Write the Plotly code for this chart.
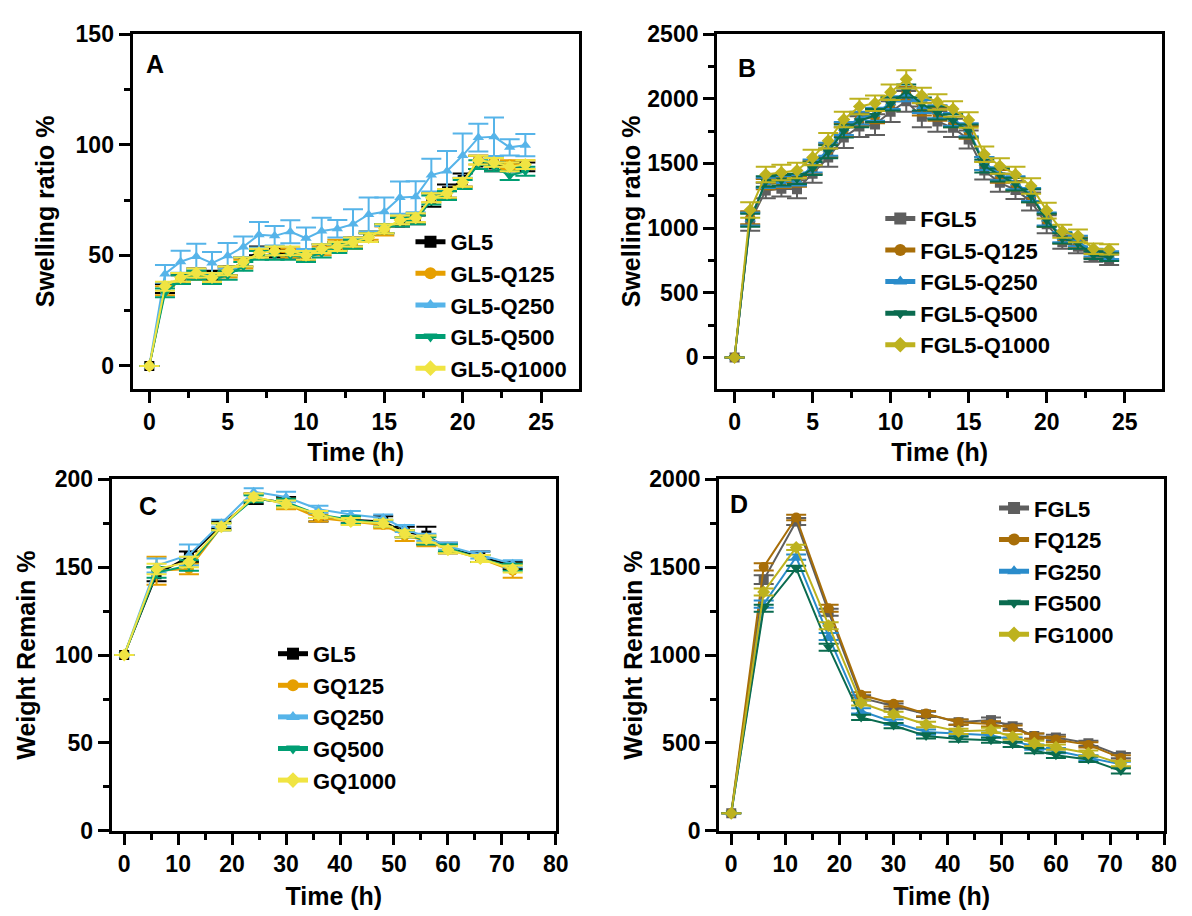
import plotly.graph_objects as go

W, H = 1192, 916

# ---------------- Panel A data ----------------
tA = list(range(25))
A_names = ["GL5", "GL5-Q125", "GL5-Q250", "GL5-Q500", "GL5-Q1000"]
A_GL5 = [0, 35, 39, 42, 41, 43, 47, 52, 51, 51, 50, 53, 54, 56, 58, 62, 65, 66, 75, 79, 84, 92, 91, 90, 90]
A_Q125 = [0, 34, 40, 41, 40, 42, 46, 51, 52, 51, 49, 52, 55, 55, 59, 61, 66, 67, 76, 77, 83, 93, 92, 91, 91]
A_Q250 = [0, 41.6, 47.1, 49.5, 46.5, 49.8, 53.8, 59.3, 58.8, 60.7, 57.7, 61.0, 62.0, 64.1, 68.5, 69.7, 76.1, 76.5, 86.3, 88.1, 95.1, 103.2, 103.6, 98.8, 99.8]
A_Q500 = [0, 33, 39, 41, 39, 41, 45, 50, 50, 50, 49, 51, 53, 55, 58, 62, 65, 66, 75, 77, 82, 91, 90, 86, 88]
A_Q1000 = [0, 36, 40, 42, 40, 43, 47, 51, 52, 52, 50, 53, 54, 56, 58, 62, 66, 67, 76, 78, 83, 93, 92, 90, 91]
A_err_GL5 = [0, 2, 2, 2, 2, 2, 2, 2, 2, 2, 2, 2, 2, 2, 2, 2, 2, 2, 3, 3, 3, 3, 3, 2, 2]
A_err_Q125 = [0, 2, 2, 2, 2, 2, 2, 2, 2, 2, 2, 2, 2, 2, 2, 2, 2, 2, 2, 2, 2, 2, 2, 2, 2]
A_err_Q250 = [0, 4, 5, 5.7, 5, 5.8, 4.7, 5.8, 4.4, 5.2, 4.9, 6, 4, 6.7, 7.6, 6.4, 7.3, 7, 7.4, 9, 10, 6.3, 8.7, 3.7, 5]
A_err_Q500 = [0, 2, 2, 2, 2, 2, 2, 2, 2, 2, 2, 2, 2, 2, 2, 2, 2, 2, 2, 2, 2, 2, 2, 2, 2]
A_err_Q1000 = [0, 2, 2, 2, 2, 2, 2, 2, 2, 2, 2, 2, 2, 2, 2, 2, 2, 2, 2, 2, 2, 2, 2, 2, 2]

# ---------------- Panel B data ----------------
tB = list(range(25))
B_names = ["FGL5", "FGL5-Q125", "FGL5-Q250", "FGL5-Q500", "FGL5-Q1000"]
B_FGL5 = [0, 1050, 1290, 1305, 1300, 1420, 1545, 1700, 1785, 1800, 1900, 1980, 1860, 1825, 1775, 1685, 1445, 1350, 1295, 1205, 1030, 890, 855, 780, 755]
B_Q125 = [0, 1080, 1340, 1350, 1360, 1470, 1600, 1760, 1840, 1860, 1960, 2040, 1920, 1880, 1830, 1740, 1500, 1400, 1340, 1250, 1060, 920, 890, 800, 780]
B_Q250 = [0, 1070, 1350, 1360, 1370, 1480, 1610, 1770, 1850, 1880, 1970, 2030, 1940, 1900, 1840, 1760, 1500, 1420, 1350, 1260, 1070, 930, 900, 810, 790]
B_Q500 = [0, 1060, 1360, 1370, 1380, 1460, 1590, 1750, 1830, 1870, 1960, 2060, 1960, 1890, 1830, 1750, 1480, 1410, 1340, 1250, 1060, 920, 880, 790, 775]
B_Q1000 = [0, 1140, 1415, 1430, 1445, 1545, 1675, 1840, 1940, 1965, 2050, 2150, 2025, 1975, 1920, 1835, 1570, 1480, 1415, 1325, 1135, 975, 940, 840, 835]
B_err_FGL5 = [0, 70, 60, 60, 70, 70, 70, 80, 80, 80, 80, 80, 80, 80, 70, 70, 70, 70, 70, 70, 70, 50, 50, 40, 40]
B_err_Q125 = [0, 50, 40, 40, 40, 50, 50, 50, 50, 50, 50, 50, 50, 50, 50, 50, 50, 50, 50, 50, 50, 40, 40, 30, 30]
B_err_Q250 = [0, 50, 40, 40, 40, 50, 50, 50, 50, 50, 50, 50, 50, 50, 50, 50, 50, 50, 50, 50, 50, 40, 40, 30, 30]
B_err_Q500 = [0, 50, 40, 40, 40, 50, 50, 50, 50, 50, 50, 50, 50, 50, 50, 50, 50, 50, 50, 50, 50, 40, 40, 30, 30]
B_err_Q1000 = [0, 60, 60, 60, 60, 60, 60, 60, 60, 60, 60, 70, 60, 60, 60, 60, 60, 60, 60, 60, 60, 50, 50, 40, 40]

# ---------------- Panel C data ----------------
tC = [0, 6, 12, 18, 24, 30, 36, 42, 48, 52, 56, 60, 66, 72]
C_names = ["GL5", "GQ125", "GQ250", "GQ500", "GQ1000"]
C_GL5 = [100, 146, 156, 174, 189, 187, 179, 177, 176, 170, 168, 161, 156, 151]
C_Q125 = [100, 148, 149, 173, 190, 186, 178, 176, 174, 168, 165, 160, 155, 148]
C_Q250 = [100, 151, 157, 175, 193, 190, 183, 180, 178, 172, 167, 162, 157, 152]
C_Q500 = [100, 147, 151, 173, 189, 187, 180, 177, 175, 169, 165, 161, 155, 150]
C_Q1000 = [100, 149, 153, 173, 190, 186, 180, 176, 175, 169, 166, 160, 155, 149]
C_err_GL5 = [0, 4, 3, 2, 3, 3, 3, 2, 3, 3, 5, 3, 3, 2]
C_err_Q125 = [0, 8, 3, 2, 2, 3, 2, 2, 2, 3, 3, 2, 2, 4]
C_err_Q250 = [0, 4, 6, 2, 2, 3, 2, 2, 2, 2, 2, 2, 2, 2]
C_err_Q500 = [0, 3, 3, 2, 2, 2, 2, 2, 2, 2, 2, 2, 2, 2]
C_err_Q1000 = [0, 3, 3, 2, 2, 2, 2, 2, 2, 2, 2, 2, 2, 2]

# ---------------- Panel D data ----------------
tD = [0, 6, 12, 18, 24, 30, 36, 42, 48, 52, 56, 60, 66, 72]
D_names = ["FGL5", "FQ125", "FG250", "FG500", "FG1000"]
D_FGL5 = [100, 1429, 1760, 1244, 756, 710, 663, 618, 630, 595, 539, 531, 498, 428]
D_Q125 = [100, 1502, 1783, 1266, 774, 723, 667, 618, 608, 584, 539, 520, 489, 415]
D_Q250 = [100, 1290, 1558, 1106, 682, 618, 562, 553, 544, 516, 476, 456, 415, 378]
D_Q500 = [100, 1266, 1493, 1045, 645, 599, 540, 522, 516, 492, 457, 430, 406, 341]
D_Q1000 = [100, 1359, 1613, 1167, 728, 663, 605, 566, 572, 535, 498, 476, 442, 382]
D_err_FGL5 = [0, 25, 20, 20, 15, 15, 15, 15, 15, 15, 15, 15, 15, 15]
D_err_Q125 = [0, 20, 15, 20, 15, 15, 15, 15, 15, 15, 15, 15, 15, 15]
D_err_Q250 = [0, 20, 15, 20, 15, 15, 15, 15, 15, 15, 15, 15, 15, 15]
D_err_Q500 = [0, 20, 15, 20, 15, 15, 15, 15, 15, 15, 15, 15, 15, 15]
D_err_Q1000 = [0, 20, 15, 20, 15, 15, 15, 15, 15, 15, 15, 15, 15, 15]

# ---------------- styles ----------------
colors_light = ["#000000", "#E69F00", "#56B4E9", "#009E73", "#F0E442"]
colors_dark = ["#5E5E5E", "#A86E08", "#2A8CCB", "#0A6B4F", "#BDB21E"]
symbols = ["square", "circle", "triangle-up", "triangle-down", "diamond"]
FONT = "Liberation Sans, Arial, sans-serif"

fig = go.Figure()

panels = [
    ("x", "y", "legend", tA, [A_GL5, A_Q125, A_Q250, A_Q500, A_Q1000],
     [A_err_GL5, A_err_Q125, A_err_Q250, A_err_Q500, A_err_Q1000], A_names, colors_light),
    ("x2", "y2", "legend2", tB, [B_FGL5, B_Q125, B_Q250, B_Q500, B_Q1000],
     [B_err_FGL5, B_err_Q125, B_err_Q250, B_err_Q500, B_err_Q1000], B_names, colors_dark),
    ("x3", "y3", "legend3", tC, [C_GL5, C_Q125, C_Q250, C_Q500, C_Q1000],
     [C_err_GL5, C_err_Q125, C_err_Q250, C_err_Q500, C_err_Q1000], C_names, colors_light),
    ("x4", "y4", "legend4", tD, [D_FGL5, D_Q125, D_Q250, D_Q500, D_Q1000],
     [D_err_FGL5, D_err_Q125, D_err_Q250, D_err_Q500, D_err_Q1000], D_names, colors_dark),
]

for xa, ya, lg, t, series, errs, names, cols in panels:
    for vals, err, name, col, sym in zip(series, errs, names, cols, symbols):
        fig.add_trace(go.Scatter(
            x=t, y=vals, name=name, mode="lines+markers",
            xaxis=xa, yaxis=ya, legend=lg,
            line=dict(color=col, width=2),
            marker=dict(symbol=sym, size=10, color=col),
            error_y=dict(type="data", array=err, visible=True, color=col,
                         thickness=2, width=10),
        ))

# pixel geometry -> paper domains
def xd(l, r):
    return [l / W, r / W]

def yd(top, bottom):
    return [1 - bottom / H, 1 - top / H]

tickfont = dict(family=FONT, size=23, color="black", weight="bold")
titlefont = dict(family=FONT, size=25, color="black", weight="bold")

def axis(domain, rng, dtick, minor_dtick, anchor, title, standoff):
    return dict(
        domain=domain, range=rng, anchor=anchor,
        dtick=dtick, tick0=0, ticks="outside", ticklen=11, tickwidth=3,
        tickcolor="black", tickfont=tickfont,
        showline=True, linewidth=3, linecolor="black", mirror=True,
        showgrid=False, zeroline=False,
        minor=dict(ticks="outside", ticklen=6, tickwidth=3, dtick=minor_dtick,
                   tick0=0, tickcolor="black", showgrid=False),
        title=dict(text=title, font=titlefont, standoff=standoff),
    )

layout = dict(
    width=W, height=H,
    margin=dict(l=0, r=0, t=0, b=0),
    paper_bgcolor="white", plot_bgcolor="white",
    showlegend=True,
    xaxis=axis(xd(134, 585), [-1.07, 27.4], 5, 2.5, "y", "Time (h)", 10),
    yaxis=axis(yd(21.7, 386.7), [-10.3, 150], 50, 25, "x", "Swelling ratio %", 14),
    xaxis2=axis(xd(725, 1175), [-1.12, 27.4], 5, 2.5, "y2", "Time (h)", 10),
    yaxis2=axis(yd(21.7, 386.7), [-242, 2500], 500, 250, "x2", "Swelling ratio %", 0),
    xaxis3=axis(xd(113, 562), [-2.3, 80], 10, 5, "y3", "Time (h)", 12),
    yaxis3=axis(yd(480, 841.7), [0, 200], 50, 25, "x3", "Weight Remain %", 13),
    xaxis4=axis(xd(727, 1177), [-2.25, 80], 10, 5, "y4", "Time (h)", 12),
    yaxis4=axis(yd(480, 841.7), [0, 2000], 500, 250, "x4", "Weight Remain %", 0),
)

legfont = dict(family=FONT, size=22, color="black", weight="bold")

def leg(xpx, ypx):
    return dict(x=xpx / W, y=1 - ypx / H, xanchor="left", yanchor="top",
                font=legfont, bgcolor="rgba(0,0,0,0)", borderwidth=0,
                tracegroupgap=0, itemsizing="constant")

layout["legend"] = leg(415, 214)
layout["legend2"] = leg(890, 190)
layout["legend3"] = leg(276, 638)
layout["legend4"] = leg(1005, 488)

letter_font = dict(family=FONT, size=25, color="black", weight="bold")
layout["annotations"] = [
    dict(text=txt, x=px / W, y=1 - py / H, xref="paper", yref="paper",
         showarrow=False, font=letter_font, xanchor="center", yanchor="middle")
    for txt, px, py in [("A", 157, 52), ("B", 755, 57), ("C", 150, 507), ("D", 747, 505)]
]

fig.update_layout(**layout)
fig.write_html("out.html")
